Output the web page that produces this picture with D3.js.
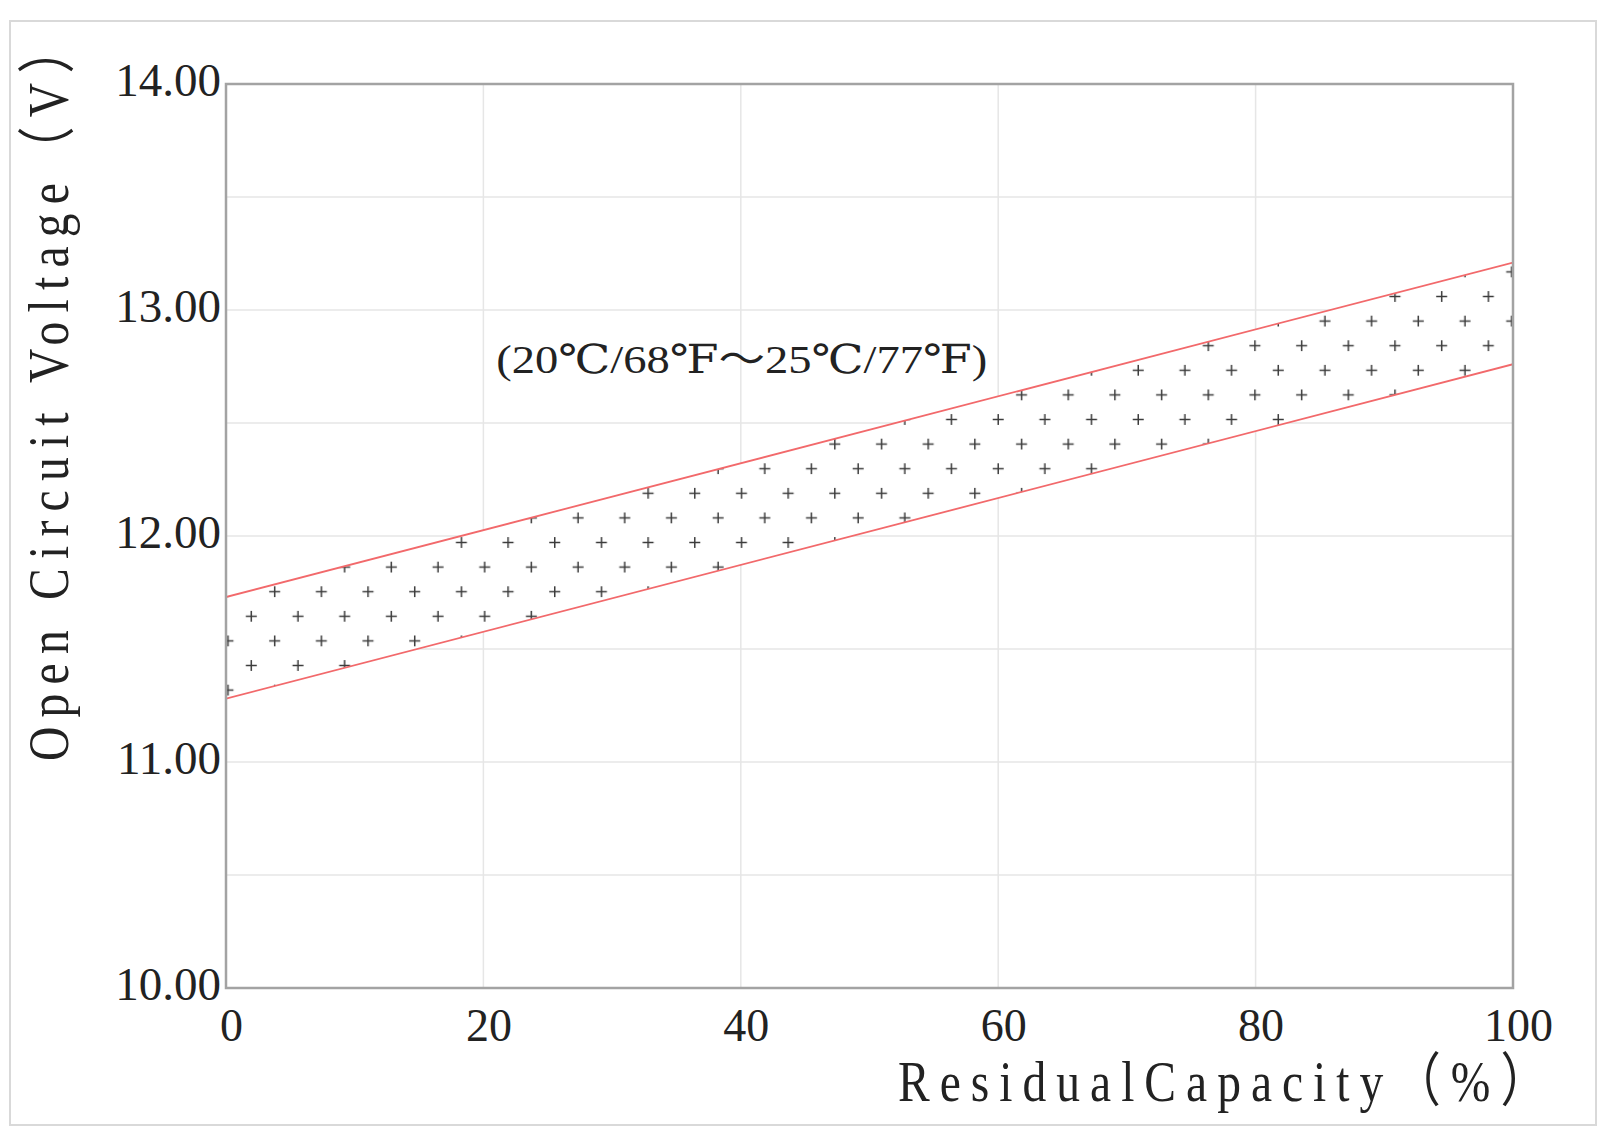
<!DOCTYPE html>
<html>
<head>
<meta charset="utf-8">
<script src="https://cdn.jsdelivr.net/npm/d3@7"></script>
<style>
  html, body { margin: 0; padding: 0; background: #fff; }
  svg { display: block; }
  text { font-family: "Liberation Serif", "DejaVu Serif", "Noto Sans CJK JP", serif; fill: #222; }
</style>
</head>
<body>
<svg id="chart" width="1612" height="1127"></svg>
<script>
// ---- data ----
const capacity = [0, 100];                 // Residual capacity (%)
const upperVoltage = [11.73, 13.21];       // upper bound of OCV band (V)
const lowerVoltage = [11.28, 12.76];       // lower bound of OCV band (V)
const xTickValues = [0, 20, 40, 60, 80, 100];
const yTickValues = [10, 11, 12, 13, 14];
const xGridValues = [20, 40, 60, 80];
const yGridValues = [10.5, 11, 11.5, 12, 12.5, 13, 13.5];
const xTitle = "ResidualCapacity（%）";
const yTitle = "Open Circuit Voltage（V）";
const note = "(20℃/68℉～25℃/77℉)";

// ---- layout ----
const plot = { left: 226, right: 1513, top: 84, bottom: 988 };

const svg = d3.select("#chart");

// outer frame
svg.append("rect")
  .attr("x", 10).attr("y", 21).attr("width", 1586).attr("height", 1104)
  .attr("fill", "#fff").attr("stroke", "#d9d9d9").attr("stroke-width", 2);

const x = d3.scaleLinear().domain([0, 100]).range([plot.left, plot.right]);
const y = d3.scaleLinear().domain([10, 14]).range([plot.bottom, plot.top]);

// clip
const defs = svg.append("defs");
defs.append("clipPath").attr("id", "plotClip")
  .append("rect")
  .attr("x", plot.left).attr("y", plot.top)
  .attr("width", plot.right - plot.left).attr("height", plot.bottom - plot.top);

// cross-hatch pattern (plus marks, staggered)
const pw = 46.68, ph = 49.2;
const pat = defs.append("pattern")
  .attr("id", "plusPattern")
  .attr("patternUnits", "userSpaceOnUse")
  .attr("x", 263.0).attr("y", 333.4)
  .attr("width", pw).attr("height", ph);
const arm = 5.5;
[[pw * 0.25, ph * 0.25], [pw * 0.75, ph * 0.75]].forEach(([cx, cy]) => {
  pat.append("path")
    .attr("d", `M${cx - arm},${cy}H${cx + arm}M${cx},${cy - arm}V${cy + arm}`)
    .attr("stroke", "#3c3c3c").attr("stroke-width", 1.5).attr("fill", "none");
});

// grid
const grid = svg.append("g").attr("clip-path", "url(#plotClip)");
grid.selectAll("line.gy").data(yGridValues).enter().append("line")
  .attr("x1", plot.left).attr("x2", plot.right)
  .attr("y1", d => y(d)).attr("y2", d => y(d))
  .attr("stroke", "#e6e6e6").attr("stroke-width", 1.5);
grid.selectAll("line.gx").data(xGridValues).enter().append("line")
  .attr("x1", d => x(d)).attr("x2", d => x(d))
  .attr("y1", plot.top).attr("y2", plot.bottom)
  .attr("stroke", "#e6e6e6").attr("stroke-width", 1.5);

// band
const bandData = capacity.map((c, i) => ({ c, lo: lowerVoltage[i], hi: upperVoltage[i] }));
const area = d3.area().x(d => x(d.c)).y0(d => y(d.lo)).y1(d => y(d.hi));
const bandG = svg.append("g").attr("clip-path", "url(#plotClip)");
bandG.append("path").datum(bandData).attr("d", area).attr("fill", "#fff");
bandG.append("path").datum(bandData).attr("d", area).attr("fill", "url(#plusPattern)");

const lineUp = d3.line().x(d => x(d.c)).y(d => y(d.hi));
const lineLo = d3.line().x(d => x(d.c)).y(d => y(d.lo));
bandG.append("path").datum(bandData).attr("d", lineUp)
  .attr("fill", "none").attr("stroke", "#f2696b").attr("stroke-width", 1.8);
bandG.append("path").datum(bandData).attr("d", lineLo)
  .attr("fill", "none").attr("stroke", "#f2696b").attr("stroke-width", 1.8);

// plot border
svg.append("rect")
  .attr("x", plot.left).attr("y", plot.top)
  .attr("width", plot.right - plot.left).attr("height", plot.bottom - plot.top)
  .attr("fill", "none").attr("stroke", "#a3a3a3").attr("stroke-width", 2.5);

// axes
const yAxis = d3.axisLeft(y).tickValues(yTickValues).tickSize(0).tickPadding(5)
  .tickFormat(d3.format(".2f"));
const gy = svg.append("g").attr("transform", `translate(${plot.left},0)`).call(yAxis);
gy.select(".domain").remove();
gy.selectAll("text").attr("font-size", 47).attr("dy", "0.25em")
  .style("font-family", "'Liberation Serif', serif").style("fill", "#222");

const xAxis = d3.axisBottom(x).tickValues(xTickValues).tickSize(0).tickPadding(20)
  .tickFormat(d3.format("d"));
const gx = svg.append("g").attr("transform", `translate(0,${plot.bottom})`).call(xAxis);
gx.select(".domain").remove();
gx.selectAll("text").attr("font-size", 46).attr("dx", 5)
  .style("font-family", "'Liberation Serif', serif").style("fill", "#222");

// axis titles
svg.append("text")
  .attr("transform", "translate(898,1101) scale(0.82,1)")
  .attr("font-size", 58)
  .attr("textLength", 650 / 0.82).attr("lengthAdjust", "spacing")
  .text(xTitle);

svg.append("text")
  .attr("transform", "translate(68,761) rotate(-90) scale(0.82,1)")
  .attr("font-size", 58)
  .attr("textLength", 735 / 0.82).attr("lengthAdjust", "spacing")
  .text(yTitle);

// annotation
svg.append("text")
  .attr("x", x(21.0)).attr("y", y(12.72))
  .attr("font-size", 40)
  .attr("textLength", 491).attr("lengthAdjust", "spacingAndGlyphs")
  .text(note);
</script>
</body>
</html>
